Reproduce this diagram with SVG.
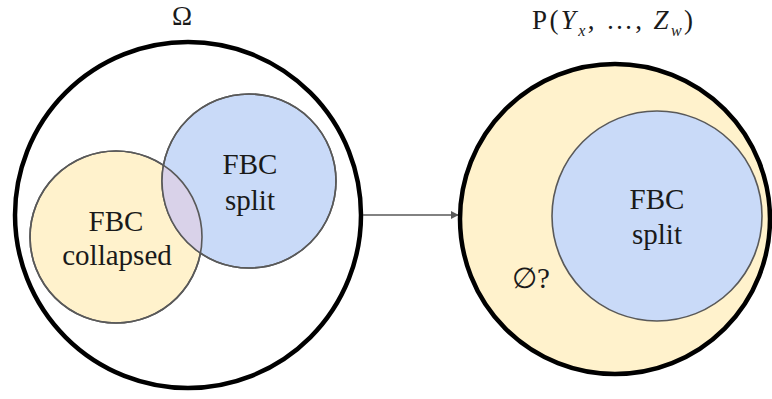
<svg xmlns="http://www.w3.org/2000/svg" width="772" height="399" viewBox="0 0 772 399">
<style>
.big{stroke:#000;stroke-width:4.5}
.set{stroke:#595959;stroke-width:1.6}
.yel{fill:#fff2cc}
.blu{fill:#c9daf8}
.t{font-family:"Liberation Serif","DejaVu Serif",serif;font-size:29px;fill:#1a1a1a;text-anchor:middle}
.h{font-family:"Liberation Serif","DejaVu Serif",serif;font-size:27px;fill:#1a1a1a}
</style>
<defs>
<marker id="ah" viewBox="0 0 10 10" refX="9" refY="5" markerWidth="5" markerHeight="5" orient="auto" markerUnits="strokeWidth"><path d="M0,0L10,5L0,10z" fill="#595959"/></marker>
<clipPath id="cy"><circle cx="116" cy="237" r="86"/></clipPath>
</defs>
<g id="omega">
<circle class="big" cx="188" cy="215" r="173" fill="#ffffff"/>
<text class="h" x="182" y="25" font-size="25" text-anchor="middle">Ω</text>
</g>
<g id="fbc-collapsed">
<circle class="set yel" cx="116" cy="237" r="86"/>
</g>
<g id="fbc-split-left">
<circle class="set blu" cx="249" cy="181" r="87"/>
<circle cx="249" cy="181" r="87" fill="#d9d2e9" clip-path="url(#cy)"/>
<circle class="set" cx="116" cy="237" r="86" fill="none"/>
<circle class="set" cx="249" cy="181" r="87" fill="none"/>
<text class="t" x="250" y="174">FBC</text>
<text class="t" x="250" y="210">split</text>
</g>
<g id="fbc-collapsed-label">
<text class="t" x="116" y="231">FBC</text>
<text class="t" x="117" y="265">collapsed</text>
</g>
<g id="connectors">
<line x1="363" y1="215" x2="458" y2="215" stroke="#595959" stroke-width="1.6" marker-end="url(#ah)"/>
</g>
<g id="p-dist">
<circle class="big yel" cx="615" cy="219" r="155"/>
<text class="h" x="532" y="29" textLength="161" lengthAdjust="spacing">P(<tspan font-style="italic">Y</tspan><tspan font-style="italic" font-size="16" dy="7">x</tspan><tspan dy="-7">, …, </tspan><tspan font-style="italic">Z</tspan><tspan font-style="italic" font-size="16" dy="7">w</tspan><tspan dy="-7">)</tspan></text>
</g>
<g id="fbc-split-right">
<circle class="set blu" cx="657" cy="216" r="105"/>
<text class="t" x="657" y="209">FBC</text>
<text class="t" x="657" y="244">split</text>
</g>
<g id="empty">
<text class="t" x="531" y="288">∅?</text>
</g>
</svg>
